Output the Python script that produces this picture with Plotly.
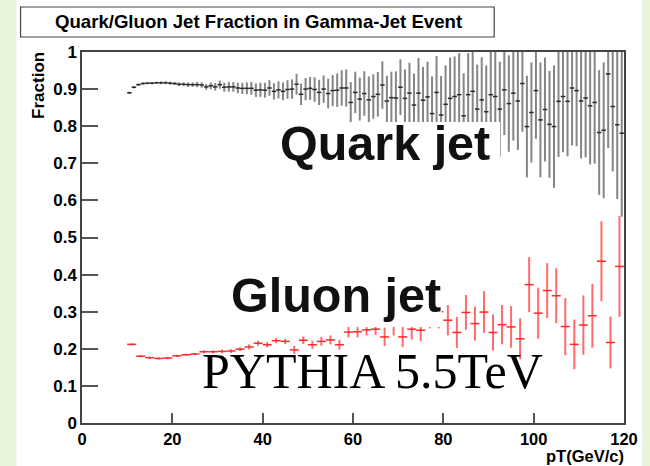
import plotly.graph_objects as go

# ---------------- data ----------------
quark_bin_width = 1.0
quark_pt = [10.5 + i for i in range(110)]
quark_frac = [
    0.890, 0.905, 0.912, 0.915, 0.916, 0.916, 0.917, 0.917, 0.917, 0.916,
    0.915, 0.913, 0.913, 0.912, 0.912, 0.912, 0.911, 0.906, 0.909, 0.906,
    0.912, 0.905, 0.906, 0.906, 0.903, 0.902, 0.902, 0.902, 0.897, 0.898,
    0.897, 0.903, 0.894, 0.898, 0.894, 0.899, 0.900, 0.913, 0.886, 0.900,
    0.902, 0.899, 0.891, 0.900, 0.888, 0.896, 0.897, 0.903, 0.903, 0.864,
    0.891, 0.873, 0.888, 0.871, 0.880,
    0.886, 0.911, 0.868, 0.877, 0.876, 0.905, 0.875, 0.889, 0.857, 0.889,
    0.870, 0.879, 0.834, 0.891, 0.830, 0.859, 0.875, 0.880, 0.885, 0.828,
    0.885, 0.894, 0.846, 0.871, 0.839, 0.885, 0.880, 0.846, 0.898, 0.861,
    0.889, 0.868, 0.915, 0.799, 0.837, 0.896, 0.817, 0.845, 0.805, 0.799,
    0.867, 0.880, 0.867, 0.903, 0.896, 0.868, 0.876, 0.855, 0.864, 0.783,
    0.789, 0.941, 0.853, 0.804, 0.781,
]
quark_err = [
    0.003, 0.003, 0.003, 0.003, 0.003, 0.003, 0.003, 0.004, 0.004, 0.004,
    0.004, 0.005, 0.005, 0.006, 0.006, 0.007, 0.007, 0.008, 0.009, 0.010,
    0.011, 0.012, 0.013, 0.013, 0.014, 0.015, 0.016, 0.017, 0.018, 0.019,
    0.020, 0.021, 0.022, 0.023, 0.024, 0.025, 0.026, 0.028, 0.029, 0.030,
    0.031, 0.033, 0.034, 0.037, 0.040, 0.042, 0.045, 0.048, 0.050, 0.055,
    0.056, 0.058, 0.060, 0.063, 0.060,
    0.060, 0.064, 0.068, 0.070, 0.072, 0.075, 0.078, 0.082, 0.085, 0.095,
    0.090, 0.095, 0.100, 0.098, 0.105, 0.105, 0.110, 0.108, 0.112, 0.115,
    0.112, 0.118, 0.120, 0.115, 0.125, 0.120, 0.125, 0.128, 0.122, 0.130,
    0.128, 0.132, 0.130, 0.137, 0.135, 0.130, 0.155, 0.140, 0.144, 0.165,
    0.150, 0.150, 0.148, 0.155, 0.150, 0.155, 0.160, 0.158, 0.165, 0.168,
    0.183, 0.200, 0.175, 0.200, 0.225,
]

gluon_bin_width = 2.0
gluon_pt = [11 + 2 * i for i in range(55)]
gluon_frac = [
    0.212, 0.180, 0.176, 0.174, 0.175, 0.181, 0.184, 0.186, 0.192, 0.192,
    0.193, 0.194, 0.199, 0.205, 0.215, 0.211, 0.222, 0.220, 0.197, 0.223,
    0.211, 0.220, 0.224, 0.211, 0.245, 0.246, 0.251, 0.253, 0.232, 0.261,
    0.232, 0.253, 0.250, 0.300, 0.300, 0.277, 0.244, 0.298, 0.268, 0.299,
    0.244, 0.265, 0.259, 0.227, 0.373, 0.296, 0.357, 0.343, 0.260, 0.212,
    0.264, 0.289, 0.436, 0.217, 0.422,
]
gluon_err = [
    0.003, 0.003, 0.003, 0.003, 0.003, 0.003, 0.003, 0.003,
    0.004, 0.004, 0.005, 0.005, 0.005,
    0.007, 0.007, 0.007, 0.007, 0.007,
    0.011, 0.010, 0.011, 0.012, 0.012, 0.013,
    0.014, 0.015, 0.015, 0.016,
    0.025, 0.025, 0.027, 0.028, 0.030,
    0.045, 0.045,
    0.041, 0.042, 0.047, 0.046, 0.056, 0.049, 0.053, 0.056, 0.055,
    0.074, 0.069, 0.074, 0.074, 0.077, 0.067, 0.080, 0.086, 0.108, 0.070, 0.136,
]

x_ticks = [0, 20, 40, 60, 80, 100, 120]
title_text = "Quark/Gluon Jet Fraction in Gamma-Jet Event"
x_title = "pT(GeV/c)"
y_title = "Fraction"

# ---------------- layout geometry (pixels) ----------------
W, H = 650, 466
L, R, T, B = 82, 629, 52, 423


def px_x(p):
    return (p - L) / (R - L)


def px_y(p):
    return (B - p) / (B - T)


BOLD = dict(family="Liberation Sans, Arial, sans-serif", weight="bold", color="black")

fig = go.Figure()

fig.add_trace(go.Scatter(
    x=quark_pt, y=quark_frac, mode="markers",
    marker=dict(size=1, color="#333333"),
    error_y=dict(type="data", array=quark_err, width=0, thickness=2, color="#858585"),
    error_x=dict(type="constant", value=quark_bin_width / 2, width=0, thickness=1.5, color="#2a2a2a"),
    showlegend=False, hoverinfo="skip",
))
fig.add_trace(go.Scatter(
    x=gluon_pt, y=gluon_frac, mode="markers",
    marker=dict(size=1, color="#ff2020"),
    error_y=dict(type="data", array=gluon_err, width=0, thickness=2, color="#ff6a6a"),
    error_x=dict(type="constant", value=gluon_bin_width / 2, width=0, thickness=1.5, color="#ff2a2a"),
    showlegend=False, hoverinfo="skip",
))

shapes = [
    # white page area on green background
    dict(type="rect", xref="paper", yref="paper", layer="below",
         x0=px_x(16), x1=px_x(647), y0=px_y(H), y1=px_y(0),
         fillcolor="white", line=dict(width=0)),
    # title box
    dict(type="rect", xref="paper", yref="paper", layer="above",
         x0=px_x(20), x1=px_x(498), y0=px_y(37), y1=px_y(7),
         fillcolor="white", line=dict(color="#444444", width=1.2)),
    # label backgrounds covering the data
    dict(type="rect", xref="paper", yref="paper", layer="above",
         x0=px_x(265), x1=px_x(504), y0=px_y(178), y1=px_y(122),
         fillcolor="white", line=dict(width=0)),
    dict(type="rect", xref="paper", yref="paper", layer="above",
         x0=px_x(222), x1=px_x(445), y0=px_y(327), y1=px_y(262),
         fillcolor="white", line=dict(width=0)),
]

annotations = [
    dict(text=title_text, xref="paper", yref="paper", x=px_x(260), y=px_y(22),
         xanchor="center", yanchor="middle", showarrow=False,
         font=dict(size=18.6, **BOLD)),
    dict(text=y_title, xref="paper", yref="paper", x=px_x(38), y=px_y(50),
         xanchor="center", yanchor="top", textangle=-90, showarrow=False,
         font=dict(size=17, **BOLD)),
    dict(text=x_title, xref="paper", yref="paper", x=px_x(631), y=px_y(456),
         xanchor="right", yanchor="middle", showarrow=False,
         font=dict(size=16.5, **BOLD)),
    dict(text="Quark jet", xref="paper", yref="paper", x=px_x(280), y=px_y(143),
         xanchor="left", yanchor="middle", showarrow=False,
         font=dict(size=48.5, family="Liberation Sans, Arial, sans-serif", weight="bold", color="#111111")),
    dict(text="Gluon jet", xref="paper", yref="paper", x=px_x(230), y=px_y(295),
         xanchor="left", yanchor="middle", showarrow=False,
         font=dict(size=48.5, family="Liberation Sans, Arial, sans-serif", weight="bold", color="#111111")),
    dict(text="PYTHIA 5.5TeV", xref="paper", yref="paper", x=px_x(201), y=px_y(371),
         xanchor="left", yanchor="middle", showarrow=False,
         font=dict(size=50, family="Liberation Serif, Times New Roman, serif", color="black")),
]

fig.update_layout(
    width=W, height=H,
    margin=dict(l=L, r=W - R, t=T, b=H - B, pad=0),
    paper_bgcolor="#e7f4dc", plot_bgcolor="white",
    shapes=shapes, annotations=annotations,
    xaxis=dict(range=[0, 120], tickvals=x_ticks, ticks="inside", ticklen=10, tickwidth=2,
               tickcolor="#555555", showline=True, linecolor="#444444", linewidth=1.5,
               mirror=True, showgrid=False, zeroline=False,
               tickfont=dict(size=16.5, **BOLD)),
    yaxis=dict(range=[0, 1], dtick=0.1, tick0=0, ticks="inside", ticklen=16, tickwidth=2,
               tickcolor="#555555", showline=True, linecolor="#444444", linewidth=1.5,
               mirror=True, showgrid=False, zeroline=False,
               tickfont=dict(size=17, **BOLD)),
)

fig.write_html("out.html")
